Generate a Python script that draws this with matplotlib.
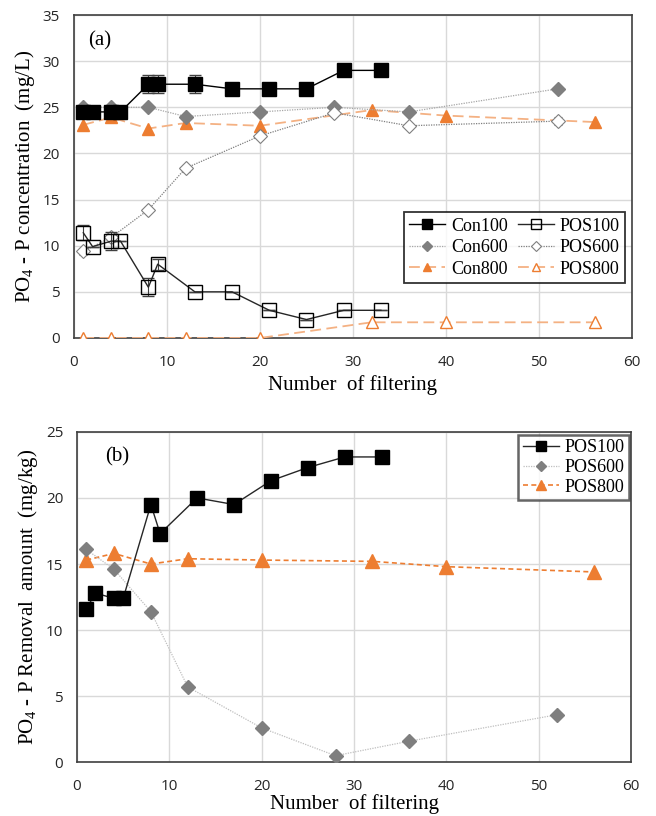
import matplotlib
matplotlib.use("Agg")
import matplotlib.pyplot as plt
from matplotlib.lines import Line2D

plt.rcParams['mathtext.fontset'] = 'custom'
plt.rcParams['mathtext.rm'] = 'Liberation Serif'
plt.rcParams['mathtext.it'] = 'Liberation Serif:italic'

# ---------------- Data (a) ----------------
con100_x = [1, 2, 4, 5, 8, 9, 13, 17, 21, 25, 29, 33]
con100_y = [24.5, 24.5, 24.5, 24.5, 27.5, 27.5, 27.5, 27, 27, 27, 29, 29]
con100_err = [0, 0, 0, 0, 1.0, 1.0, 1.0, 0, 0, 0, 0, 0]

pos100_x = [1, 2, 4, 5, 8, 9, 13, 17, 21, 25, 29, 33]
pos100_y = [11.4, 9.9, 10.5, 10.5, 5.5, 8.0, 5.0, 5.0, 3.0, 2.0, 3.0, 3.0]
pos100_err = [0.8, 0, 1.0, 0, 1.0, 0.6, 0, 0, 0, 0, 0, 0]

con600_x = [1, 4, 8, 12, 20, 28, 36, 52]
con600_y = [25.0, 25.0, 25.0, 24.0, 24.5, 25.0, 24.5, 27.0]

pos600_x = [1, 4, 8, 12, 20, 28, 36, 52]
pos600_y = [9.4, 10.9, 13.9, 18.4, 21.9, 24.4, 23.0, 23.5]
pos600_err = [0.4, 0.5, 0.3, 0.4, 0.3, 0.3, 0.3, 0.4]

con800_x = [1, 4, 8, 12, 20, 32, 40, 56]
con800_y = [23.1, 23.9, 22.7, 23.3, 23.0, 24.7, 24.1, 23.4]

pos800_x = [1, 4, 8, 12, 20, 32, 40, 56]
pos800_y = [0, 0, 0, 0, 0, 1.7, 1.7, 1.7]

# ---------------- Data (b) ----------------
b_pos100_x = [1, 2, 4, 5, 8, 9, 13, 17, 21, 25, 29, 33]
b_pos100_y = [11.6, 12.8, 12.4, 12.4, 19.5, 17.3, 20.0, 19.5, 21.3, 22.3, 23.1, 23.1]

b_pos600_x = [1, 4, 8, 12, 20, 28, 36, 52]
b_pos600_y = [16.1, 14.6, 11.4, 5.7, 2.6, 0.5, 1.6, 3.6]

b_pos800_x = [1, 4, 8, 12, 20, 32, 40, 56]
b_pos800_y = [15.3, 15.8, 15.0, 15.4, 15.3, 15.2, 14.8, 14.4]

ORANGE = '#ED7D31'
LORANGE = '#F4B183'
GRAY = '#7F7F7F'
TICKFONT = 'Open Sans'
SERIF = 'Liberation Serif'

fig = plt.figure(figsize=(6.56, 8.16), dpi=100)
ax1 = fig.add_axes([0.1128, 0.5858, 0.8506, 0.3958])
ax2 = fig.add_axes([0.1174, 0.0658, 0.8445, 0.4050])


def style_axes(ax, ymax, ystep):
    ax.set_xlim(0, 60)
    ax.set_ylim(0, ymax)
    ax.set_xticks(range(0, 61, 10))
    ax.set_yticks(range(0, ymax + 1, ystep))
    ax.grid(True, color='#D9D9D9', linewidth=1.0)
    ax.set_axisbelow(True)
    for s in ax.spines.values():
        s.set_color('#404040')
        s.set_linewidth(1.2)
    ax.tick_params(axis='x', length=0, pad=12, labelsize=11)
    ax.tick_params(axis='y', length=0, pad=10, labelsize=11)
    for lab in ax.get_xticklabels() + ax.get_yticklabels():
        lab.set_fontfamily(TICKFONT)
        lab.set_color('#262626')


# ---------- (a) ----------
style_axes(ax1, 35, 5)
st = {
    'Con100': dict(color='black', lw=1.0, ls='-', marker='s', ms=10, mfc='black', mec='black'),
    'POS100': dict(color='#262626', lw=1.0, ls='-', marker='s', ms=10, mfc='none', mec='black'),
    'Con600': dict(color='#A6A6A6', lw=0.9, ls=(0, (1, 1)), marker='D', ms=7, mfc=GRAY, mec=GRAY),
    'POS600': dict(color=GRAY, lw=0.9, ls=(0, (1, 1)), marker='D', ms=7, mfc='white', mec=GRAY, mew=0.8),
    'Con800': dict(color=LORANGE, lw=1.3, ls=(0, (6, 3)), marker='^', ms=9, mfc=ORANGE, mec=ORANGE),
    'POS800': dict(color=LORANGE, lw=1.3, ls=(0, (6, 3)), marker='^', ms=9, mfc='white', mec=ORANGE, mew=1.0),
}
ax1.errorbar(con100_x, con100_y, yerr=con100_err, capsize=4, ecolor='#404040',
             elinewidth=0.8, zorder=5, **st['Con100'])
ax1.errorbar(pos100_x, pos100_y, yerr=pos100_err, capsize=4, ecolor='#404040',
             elinewidth=0.8, zorder=5, **st['POS100'])
ax1.plot(con600_x, con600_y, zorder=4, **st['Con600'])
ax1.errorbar(pos600_x, pos600_y, yerr=pos600_err, capsize=3, ecolor=GRAY,
             elinewidth=0.7, zorder=4, **st['POS600'])
ax1.plot(con800_x, con800_y, zorder=3, **st['Con800'])
ax1.plot(pos800_x, pos800_y, zorder=3, **st['POS800'])

order = ['Con100', 'Con600', 'Con800', 'POS100', 'POS600', 'POS800']
hh = []
for o in order:
    d = dict(st[o])
    d['ms'] = d['ms'] * 0.7
    hh.append(Line2D([], [], **d))
leg1 = ax1.legend(hh, order, ncol=2, loc='center right', bbox_to_anchor=(0.988, 0.28),
                  borderaxespad=0,
                  prop={'family': SERIF, 'size': 13}, frameon=True, fancybox=False,
                  edgecolor='black', handlelength=2.0, handletextpad=0.3,
                  columnspacing=0.6, labelspacing=0.25, borderpad=0.3)
leg1.get_frame().set_linewidth(1.3)
ax1.text(0.025, 0.92, '(a)', transform=ax1.transAxes, family=SERIF, fontsize=15, va='center')
ax1.set_xlabel('Number  of filtering', family=SERIF, fontsize=15, labelpad=4)
ax1.set_ylabel('PO$_4$ - P concentration  (mg/L)', family=SERIF, fontsize=15, labelpad=4)

# ---------- (b) ----------
style_axes(ax2, 25, 5)
ax2.plot(b_pos100_x, b_pos100_y, color='#262626', lw=1.0, marker='s', ms=10,
         mfc='black', mec='black', label='POS100', zorder=5)
ax2.plot(b_pos600_x, b_pos600_y, color='#BFBFBF', lw=0.9, ls=(0, (1, 1)),
         marker='D', ms=7, mfc=GRAY, mec=GRAY, label='POS600', zorder=4)
ax2.plot(b_pos800_x, b_pos800_y, color=ORANGE, lw=1.2, ls=(0, (3, 2)),
         marker='^', ms=10, mfc=ORANGE, mec=ORANGE, label='POS800', zorder=3)
leg2 = ax2.legend(loc='upper right', bbox_to_anchor=(0.9964, 0.991), borderaxespad=0,
                  prop={'family': SERIF, 'size': 13}, frameon=True, fancybox=False,
                  edgecolor='#404040', handlelength=2.0, handletextpad=0.3,
                  labelspacing=0.15, borderpad=0.25, markerscale=0.7)
leg2.get_frame().set_linewidth(1.8)
ax2.text(0.05, 0.925, '(b)', transform=ax2.transAxes, family=SERIF, fontsize=15, va='center')
ax2.set_xlabel('Number  of filtering', family=SERIF, fontsize=15, labelpad=0)
ax2.set_ylabel('PO$_4$ - P Removal  amount  (mg/kg)', family=SERIF, fontsize=15, labelpad=4)

fig.savefig('out.png', dpi=100)
